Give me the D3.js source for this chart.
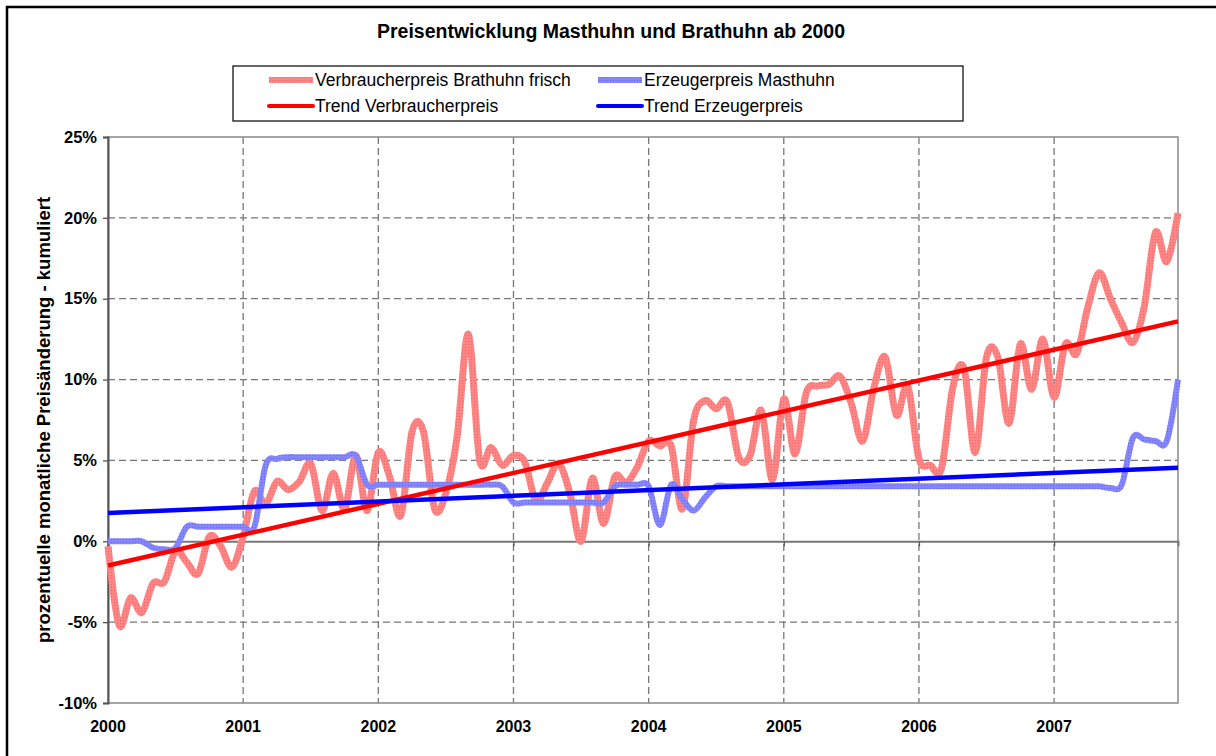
<!DOCTYPE html>
<html>
<head>
<meta charset="utf-8">
<script src="https://cdn.jsdelivr.net/npm/d3@7"></script>
<style>
  body { margin: 0; background: #fff; }
  text { font-family: "Liberation Sans", Arial, sans-serif; }
</style>
</head>
<body>
<svg class="chart"></svg>
<script>
// Preisentwicklung Masthuhn / Brathuhn, monthly cumulated change in %

let width = 1216, height = 756;
let margin = { top: 137, right: 38, bottom: 53, left: 108 };
let w = width - margin.left - margin.right;
let h = height - margin.top - margin.bottom;

let years = ["2000", "2001", "2002", "2003", "2004", "2005", "2006", "2007"];
let yTicks = [-10, -5, 0, 5, 10, 15, 20, 25];

// Verbraucherpreis Brathuhn frisch, Jan 2000 - Dec 2007
let consumer = [
  -0.3, -5.2, -3.5, -4.4, -2.6, -2.5, -0.6, -1.3, -2.0, 0.3, -0.3, -1.6,
  0.3, 3.1, 2.3, 3.7, 3.2, 3.7, 4.8, 1.9, 4.2, 2.0, 5.3, 1.9,
  5.5, 4.0, 1.6, 6.8, 6.8, 2.0, 3.0, 6.5, 12.8, 5.0, 5.8, 4.7,
  5.3, 4.9, 2.5, 3.6, 4.8, 3.0, 0.0, 3.9, 1.1, 4.0, 3.6, 4.6,
  6.2, 5.9, 5.9, 2.0, 7.5, 8.7, 8.2, 8.6, 5.2, 5.3, 8.1, 3.8,
  8.8, 5.4, 9.2, 9.6, 9.7, 10.2, 8.5, 6.2, 9.5, 11.4, 7.8, 9.6,
  5.1, 4.7, 4.5, 9.5, 10.7, 5.5, 11.4, 11.4, 7.3, 12.2, 9.4, 12.5,
  8.9, 12.2, 11.6, 14.5, 16.6, 15.0, 13.5, 12.3, 14.5, 19.1, 17.3, 20.3
];

// Erzeugerpreis Masthuhn
let producer = [
  0, 0, 0, 0, -0.4, -0.5, -0.4, 0.9, 0.9, 0.9, 0.9, 0.9,
  0.9, 0.9, 4.7, 5.1, 5.2, 5.2, 5.2, 5.2, 5.2, 5.2, 5.3, 3.5,
  3.5, 3.5, 3.5, 3.5, 3.5, 3.5, 3.5, 3.5, 3.5, 3.5, 3.5, 3.4,
  2.4, 2.4, 2.4, 2.4, 2.4, 2.4, 2.4, 2.4, 2.4, 3.4, 3.5, 3.5,
  3.4, 1.0, 3.5, 2.6, 1.9, 2.7, 3.4, 3.4, 3.4, 3.4, 3.4, 3.4,
  3.4, 3.4, 3.4, 3.4, 3.4, 3.4, 3.4, 3.4, 3.4, 3.4, 3.4, 3.4,
  3.4, 3.4, 3.4, 3.4, 3.4, 3.4, 3.4, 3.4, 3.4, 3.4, 3.4, 3.4,
  3.4, 3.4, 3.4, 3.4, 3.4, 3.3, 3.5, 6.4, 6.3, 6.2, 6.2, 10.0
];

// trend lines, start and end value
let trendConsumer = [-1.5, 13.6];
let trendProducer = [1.75, 4.55];

let legendItems = [
  { label: "Verbraucherpreis Brathuhn frisch", stroke: "url(#patRed)", sw: 6 },
  { label: "Erzeugerpreis Masthuhn", stroke: "url(#patBlue)", sw: 6 },
  { label: "Trend Verbraucherpreis", stroke: "#ff0000", sw: 4 },
  { label: "Trend Erzeugerpreis", stroke: "#0000ff", sw: 4 }
];

let svg = d3.select(".chart")
  .attr("width", width)
  .attr("height", height);

// textured strokes like the excel series
let defs = svg.append("defs");
[["patRed", "#ff8585", "#ee6a6a"], ["patBlue", "#8585ff", "#6a6aee"]].forEach(p => {
  let pat = defs.append("pattern")
    .attr("id", p[0])
    .attr("patternUnits", "userSpaceOnUse")
    .attr("width", 3).attr("height", 3);
  pat.append("rect").attr("width", 3).attr("height", 3).attr("fill", p[1]);
  pat.append("rect").attr("width", 1).attr("height", 1).attr("fill", p[2]);
});

// outer frame
svg.append("rect")
  .attr("x", 7).attr("y", 7)
  .attr("width", width + 20).attr("height", height + 20)
  .attr("fill", "none")
  .attr("stroke", "#000")
  .attr("stroke-width", 2.5);

svg.append("text")
  .attr("x", 611).attr("y", 38)
  .attr("text-anchor", "middle")
  .style("font-size", "19.5px")
  .style("font-weight", "bold")
  .text("Preisentwicklung Masthuhn und Brathuhn ab 2000");

let chart = svg.append("g")
  .attr("transform", "translate(" + margin.left + "," + margin.top + ")");

let x = d3.scaleLinear()
  .domain([0, consumer.length - 1])
  .range([0, w]);

let y = d3.scaleLinear()
  .domain([-10, 25])
  .range([h, 0]);

// grid
chart.append("g")
  .selectAll("line")
  .data(yTicks.filter(d => d != 0 && d != -10 && d != 25))
  .enter().append("line")
  .attr("x1", 0).attr("x2", w)
  .attr("y1", d => y(d)).attr("y2", d => y(d))
  .attr("stroke", "#777")
  .attr("stroke-width", 1.3)
  .attr("stroke-dasharray", "7,4");

chart.append("g")
  .selectAll("line")
  .data(years.slice(1))
  .enter().append("line")
  .attr("x1", (d, i) => x((i + 1) * 12)).attr("x2", (d, i) => x((i + 1) * 12))
  .attr("y1", 0).attr("y2", h)
  .attr("stroke", "#777")
  .attr("stroke-width", 1.3)
  .attr("stroke-dasharray", "7,4");

// plot border
chart.append("rect")
  .attr("width", w).attr("height", h)
  .attr("fill", "none")
  .attr("stroke", "#888")
  .attr("stroke-width", 1.5);

// y axis
let yAxis = chart.append("g")
  .call(d3.axisLeft(y).tickValues(yTicks).tickSize(5).tickFormat(d => d + "%"));
yAxis.select(".domain").attr("stroke", "#555").attr("stroke-width", 2);
yAxis.selectAll(".tick line").attr("stroke", "#555").attr("stroke-width", 1.3);
yAxis.selectAll("text")
  .attr("x", -11)
  .style("font-family", "Liberation Sans, Arial, sans-serif")
  .style("font-size", "16.5px")
  .style("font-weight", "bold")
  .attr("fill", "#000");

// x axis crossing at 0%, labels at the bottom
let xAxis = chart.append("g")
  .attr("transform", "translate(0," + y(0) + ")")
  .call(d3.axisBottom(x).tickValues(d3.range(0, 96, 12)).tickSize(5).tickFormat(""));
xAxis.select(".domain").attr("stroke", "#777").attr("stroke-width", 2);
xAxis.selectAll(".tick line").attr("stroke", "#555").attr("stroke-width", 1.3);

chart.append("g")
  .selectAll("text")
  .data(years)
  .enter().append("text")
  .attr("x", (d, i) => x(i * 12))
  .attr("y", h + 29)
  .attr("text-anchor", "middle")
  .style("font-size", "16px")
  .style("font-weight", "bold")
  .text(d => d);

svg.append("text")
  .attr("transform", "translate(50," + (margin.top + h / 2) + ") rotate(-90)")
  .attr("text-anchor", "middle")
  .style("font-size", "18.5px")
  .style("font-weight", "bold")
  .text("prozentuelle monatliche Preisänderung - kumuliert");

// series
let line = d3.line()
  .x((d, i) => x(i))
  .y(d => y(d))
  .curve(d3.curveCardinal);

chart.append("path")
  .datum(consumer)
  .attr("d", line)
  .attr("fill", "none")
  .attr("stroke", "url(#patRed)")
  .attr("stroke-width", 7)
  .attr("stroke-linejoin", "round");

chart.append("path")
  .datum(producer)
  .attr("d", line)
  .attr("fill", "none")
  .attr("stroke", "url(#patBlue)")
  .attr("stroke-width", 6)
  .attr("stroke-linejoin", "round");

// trends
[[trendConsumer, "#ff0000"], [trendProducer, "#0000ff"]].forEach(t => {
  chart.append("line")
    .attr("x1", x(0)).attr("y1", y(t[0][0]))
    .attr("x2", x(consumer.length - 1)).attr("y2", y(t[0][1]))
    .attr("stroke", t[1])
    .attr("stroke-width", 4.5);
});

// legend
let legend = svg.append("g");
legend.append("rect")
  .attr("x", 233).attr("y", 66)
  .attr("width", 730).attr("height", 55)
  .attr("fill", "#fff")
  .attr("stroke", "#000")
  .attr("stroke-width", 1.2);

let li = legend.selectAll(".item")
  .data(legendItems)
  .enter().append("g")
  .attr("transform", (d, i) => "translate(" + (i % 2 ? 598 : 269) + "," + (i < 2 ? 80 : 106) + ")");

li.append("line")
  .attr("x1", 0).attr("x2", 44)
  .attr("stroke", d => d.stroke)
  .attr("stroke-width", d => d.sw)
  .attr("stroke-linecap", d => d.sw < 5 ? "round" : "butt");

li.append("text")
  .attr("x", 46)
  .attr("y", 6)
  .style("font-size", "17.5px")
  .text(d => d.label);
</script>
</body>
</html>
